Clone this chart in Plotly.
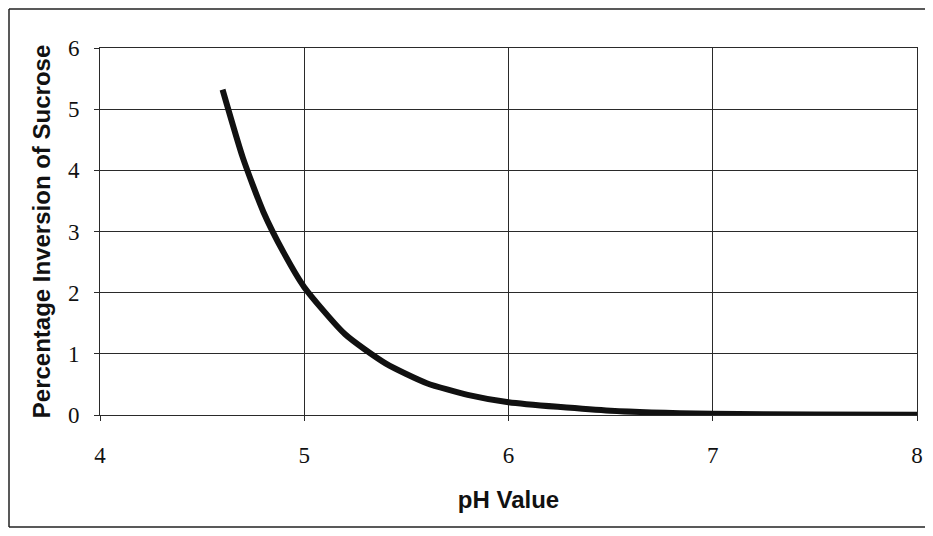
import plotly.graph_objects as go

ph_values = [4.6, 4.7, 4.8, 4.9, 5.0, 5.2, 5.4, 5.6, 5.8, 6.0, 6.5, 7.0, 7.5, 8.0]
inversion_pct = [5.32, 4.2, 3.32, 2.65, 2.09, 1.32, 0.84, 0.52, 0.33, 0.21, 0.07, 0.02, 0.01, 0.003]

x_ticks = [4, 5, 6, 7, 8]
y_ticks = [0, 1, 2, 3, 4, 5, 6]

W, H = 917, 520
L, R, T, B = 92, 8, 40, 113
pw, ph = W - L - R, H - T - B

fig = go.Figure()
fig.add_trace(go.Scatter(
    x=ph_values, y=inversion_pct, mode="lines",
    line=dict(color="#111111", width=6, shape="spline", smoothing=0.6),
    showlegend=False, hoverinfo="skip",
))

axis_common = dict(
    showgrid=True, gridcolor="#2a2a2a", gridwidth=1,
    showline=True, linecolor="#2a2a2a", linewidth=1, mirror=True,
    ticks="outside", ticklen=5, tickcolor="#2a2a2a",
    zeroline=False, automargin=False,
    tickfont=dict(family="Liberation Serif", size=23, color="#111111"),
)

fx0 = (1 - L) / pw
fx1 = (W - L) / pw
fy0 = (T + ph - (H - 1)) / ph
fy1 = (T + ph - 1) / ph
frame = dict(color="#222222", width=1.5)

fig.update_layout(
    width=W, height=H,
    margin=dict(l=L, r=R, t=T, b=B),
    paper_bgcolor="white", plot_bgcolor="white",
    xaxis=dict(range=[4, 8], tickvals=x_ticks, ticklabelstandoff=14,
               title=dict(text="<b>pH Value</b>", standoff=24,
                          font=dict(family="Liberation Sans", size=24, color="#111111")),
               **axis_common),
    yaxis=dict(range=[0, 6], tickvals=y_ticks, ticklabelstandoff=10,
               title=dict(text="<b>Percentage Inversion of Sucrose</b>", standoff=10,
                          font=dict(family="Liberation Sans", size=24, color="#111111")),
               **axis_common),
    shapes=[
        dict(type="line", xref="paper", yref="paper", x0=fx0, x1=fx0, y0=fy0, y1=fy1, line=frame),
        dict(type="line", xref="paper", yref="paper", x0=fx0, x1=fx1, y0=fy1, y1=fy1, line=frame),
        dict(type="line", xref="paper", yref="paper", x0=fx0, x1=fx1, y0=fy0, y1=fy0, line=frame),
    ],
)

fig.write_html("out.html")
